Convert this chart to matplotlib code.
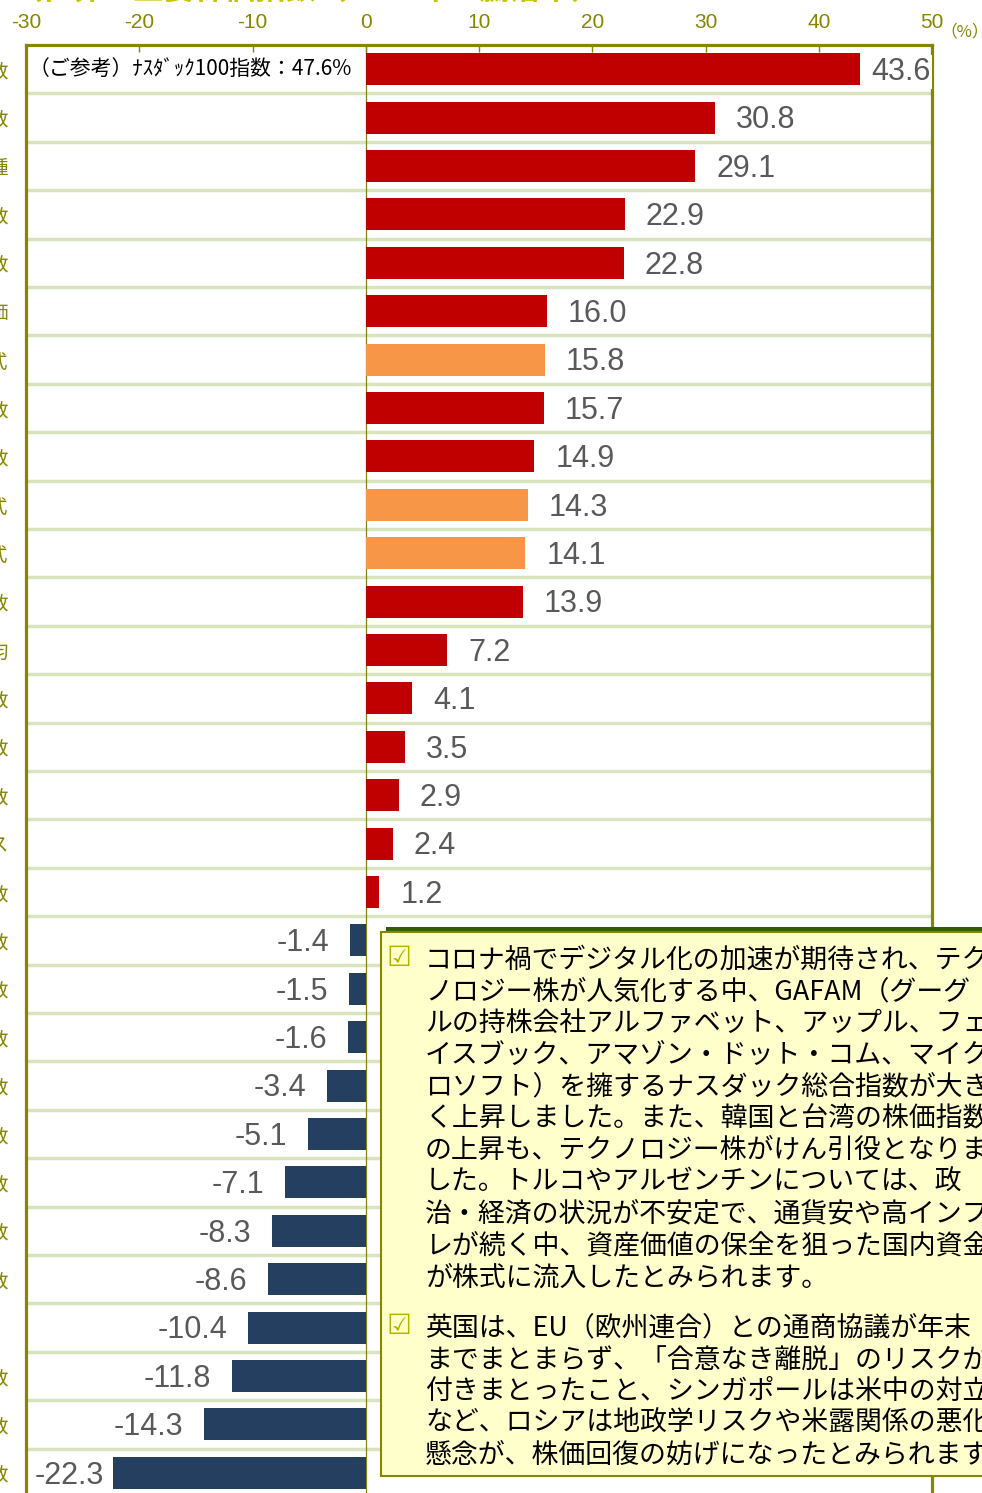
import matplotlib.pyplot as plt
from matplotlib.patches import Rectangle

plt.rcParams['font.family'] = ['Liberation Sans', 'DejaVu Sans']
JP = ['Noto Sans CJK JP', 'DejaVu Sans']

# data (top to bottom); only the last character of each label is visible in the crop
labels = ['数', '数', '種', '数', '数', '価', '式', '数', '数', '式', '式', '数', '均', '数', '数',
          '数', 'ス', '数', '数', '数', '数', '数', '数', '数', '数', '数', '', '数', '数', '数']
values = [43.6, 30.8, 29.1, 22.9, 22.8, 16.0, 15.8, 15.7, 14.9, 14.3, 14.1, 13.9, 7.2, 4.1, 3.5,
          2.9, 2.4, 1.2, -1.4, -1.5, -1.6, -3.4, -5.1, -7.1, -8.3, -8.6, -10.4, -11.8, -14.3, -22.3]
msci_rows = [6, 9, 10]
xticks = [-30, -20, -10, 0, 10, 20, 30, 40, 50]

note1 = ['コロナ禍でデジタル化の加速が期待され、テク',
         'ノロジー株が人気化する中、GAFAM（グーグ',
         'ルの持株会社アルファベット、アップル、フェ',
         'イスブック、アマゾン・ドット・コム、マイク',
         'ロソフト）を擁するナスダック総合指数が大き',
         'く上昇しました。また、韓国と台湾の株価指数',
         'の上昇も、テクノロジー株がけん引役となりま',
         'した。トルコやアルゼンチンについては、政',
         '治・経済の状況が不安定で、通貨安や高インフ',
         'レが続く中、資産価値の保全を狙った国内資金',
         'が株式に流入したとみられます。']
note2 = ['英国は、EU（欧州連合）との通商協議が年末',
         'までまとまらず、「合意なき離脱」のリスクが',
         '付きまとったこと、シンガポールは米中の対立',
         'など、ロシアは地政学リスクや米露関係の悪化',
         '懸念が、株価回復の妨げになったとみられます。']

RED, ORANGE, NAVY = '#c00000', '#f79646', '#243f60'
OLIVE = '#868600'

W, H = 982, 1493
fig = plt.figure(figsize=(W / 100, H / 100), dpi=100)
ax = fig.add_axes([26 / W, -4 / H, 906 / W, 1452 / H])

n = len(values)
rows = list(range(n))
colors = [ORANGE if i in msci_rows else (RED if v > 0 else NAVY) for i, v in enumerate(values)]
ax.barh(rows, values, height=0.66, color=colors, zorder=3)

ax.hlines([i + 0.5 for i in range(n - 1)], -30, 50, color='#d7e4bd', lw=2.5, zorder=1)
ax.axvline(0, color=OLIVE, lw=0.9, zorder=2)

lab_kw = dict(textcoords='offset points', va='center', fontsize=22, color='#595959',
              zorder=5, annotation_clip=False)
for i, v in enumerate(values):
    if v > 40:
        # no room after the bar: pushed against the right edge
        t = ax.annotate(f'{v:.1f}', (50, i), xytext=(-1, -2), ha='right', **lab_kw)
        t.set_bbox(dict(fc='white', ec='none', pad=1))
    elif v > 0:
        ax.annotate(f'{v:.1f}', (v, i), xytext=(15, -2), ha='left', **lab_kw)
    elif v < -20:
        ax.annotate(f'{v:.1f}', (-30, i), xytext=(6, -2), ha='left', **lab_kw)
    else:
        ax.annotate(f'{v:.1f}', (v, i), xytext=(-15, -2), ha='right', **lab_kw)

ax.text(-29.75, 0, '（ご参考）ﾅｽﾀﾞｯｸ100指数：47.6%', ha='left', va='center',
        fontsize=15, family=JP, color='black', zorder=4)

ax.set_xlim(-30, 50)
ax.set_ylim(n - 0.5, -0.5)
ax.xaxis.tick_top()
ax.set_xticks(xticks)
ax.set_xticklabels([str(x) for x in xticks])
ax.tick_params(axis='x', direction='in', length=5, width=1, color=OLIVE, labelcolor=OLIVE,
               labelsize=15, pad=9.5)
ax.set_yticks(rows)
ax.set_yticklabels(labels, family=JP, fontsize=14, color=OLIVE)
ax.tick_params(axis='y', length=0, pad=13)
for s in ['top', 'left', 'right']:
    ax.spines[s].set_color(OLIVE)
    ax.spines[s].set_linewidth(2.3)
ax.spines['bottom'].set_visible(False)

fig.text(940 / W, 1 - 32 / H, '（%）', fontsize=12, color=OLIVE, family=JP, va='center')
fig.text(12 / W, 1 - 6 / H, '（世界の主要株価指数（2020年の騰落率）', fontsize=22,
         fontweight='bold', color='#c4c400', family=JP, va='bottom')

# note box in pixel coordinates
ov = fig.add_axes([0, 0, 1, 1], facecolor='none')
ov.set_xlim(0, W)
ov.set_ylim(H, 0)
ov.axis('off')
ov.add_patch(Rectangle((386, 927), 700, 545, fc='#2f6000', ec='none', zorder=1))
ov.add_patch(Rectangle((381, 932), 700, 544, fc='#ffffcc', ec=OLIVE, lw=1.5, zorder=2))
for y0, lines in [(957, note1), (1325, note2)]:
    ov.text(387, y0 + 1, '☑', fontsize=20, color='#b4b400', family=['DejaVu Sans'],
            va='center', ha='left', zorder=3)
    for k, line in enumerate(lines):
        ov.text(425, y0 + 3 + k * 31.8, line, fontsize=19.4, family=JP, color='black',
                va='center', ha='left', zorder=3)

fig.savefig('out.png', dpi=100)
